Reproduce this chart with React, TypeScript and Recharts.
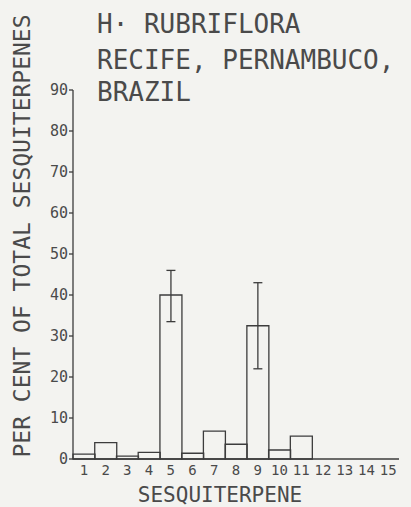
import { BarChart, Bar, XAxis, YAxis, ErrorBar } from 'recharts'

// sesquiterpene number 1..15
const sesquiterpenes = ['1', '2', '3', '4', '5', '6', '7', '8', '9', '10', '11', '12', '13', '14', '15']
// per cent of total sesquiterpenes
const percentValues = [1.2, 4.0, 0.7, 1.6, 40, 1.4, 6.8, 3.6, 32.5, 2.2, 5.6, 0, 0, 0, 0]
// error bars [below, above], null where none drawn
const errorRanges: ([number, number] | null)[] = [null, null, null, null, [6.5, 6], null, null, null, [10.5, 10.5], null, null, null, null, null, null]
const yTicks = [0, 10, 20, 30, 40, 50, 60, 70, 80, 90]
const titleLines = ['H· RUBRIFLORA', 'RECIFE, PERNAMBUCO,', 'BRAZIL']

const INK = '#3c3c3c'
const FONT = '"DejaVu Sans Mono", monospace'

const chartData = sesquiterpenes.map((s, i) => ({
  name: s,
  percent: percentValues[i],
  err: errorRanges[i]
}))

export default function App() {
  return (
    <div style={{ position: 'absolute', left: 0, top: 0, width: 411, height: 507, background: '#f3f3f0', overflow: 'hidden' }}>
      {titleLines.map((line, i) => (
        <div
          key={line}
          style={{
            position: 'absolute',
            left: 97,
            top: [9, 45, 77][i],
            fontFamily: FONT,
            fontSize: 26,
            lineHeight: '30px',
            color: '#4a4a4a',
            whiteSpace: 'pre'
          }}
        >
          {line}
        </div>
      ))}
      <BarChart
        width={411}
        height={507}
        data={chartData}
        margin={{ top: 90, right: 12, bottom: 0, left: 0 }}
        barCategoryGap={0}
        style={{ position: 'absolute', left: 0, top: 0 }}
      >
        <XAxis
          dataKey="name"
          interval={0}
          height={48}
          tickLine={false}
          tickSize={0}
          tickMargin={6}
          axisLine={{ stroke: INK, strokeWidth: 1.3 }}
          tick={{ fill: '#4a4a4a', fontFamily: FONT, fontSize: 14 }}
          label={() => (
            <text x={220} y={495} textAnchor="middle" dominantBaseline="central" fill="#4a4a4a" fontFamily={FONT} fontSize={21}>
              SESQUITERPENE
            </text>
          )}
        />
        <YAxis
          width={73}
          domain={[0, 90]}
          ticks={yTicks}
          interval={0}
          tickSize={4}
          tickMargin={1}
          axisLine={{ stroke: INK, strokeWidth: 1.3 }}
          tickLine={{ stroke: INK, strokeWidth: 1.3 }}
          tick={{ fill: '#4a4a4a', fontFamily: FONT, fontSize: 15 }}
          label={() => (
            <text
              x={22}
              y={236}
              transform="rotate(-90 22 236)"
              textAnchor="middle"
              dominantBaseline="central"
              fill="#4a4a4a"
              fontFamily={FONT}
              fontSize={23}
            >
              PER CENT OF TOTAL SESQUITERPENES
            </text>
          )}
        />
        <Bar dataKey="percent" fill="none" stroke={INK} strokeWidth={1.3} isAnimationActive={false}>
          <ErrorBar dataKey="err" width={4.5} stroke={INK} strokeWidth={1.3} isAnimationActive={false} />
        </Bar>
      </BarChart>
    </div>
  )
}
